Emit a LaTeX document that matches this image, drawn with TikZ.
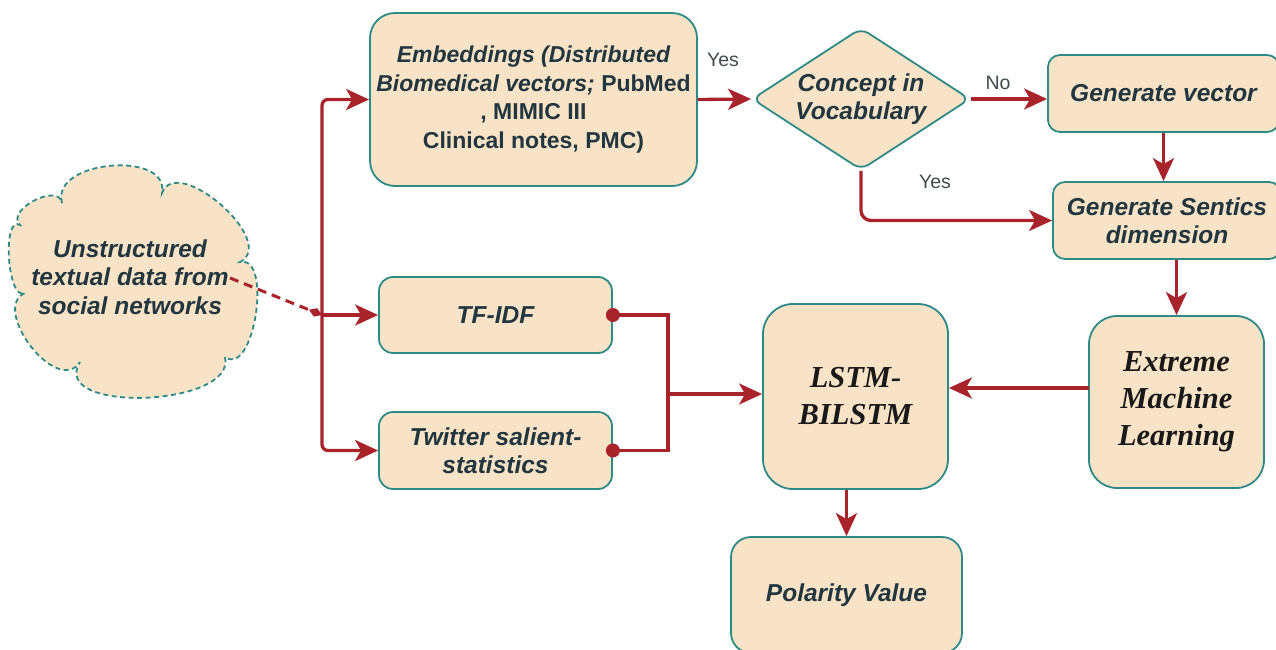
\documentclass[tikz,border=0pt]{standalone}
\usepackage{fontspec}
\newfontfamily\boxsans{Liberation Sans}
\newfontfamily\boxserif{Liberation Serif}
\usetikzlibrary{arrows.meta,shapes.geometric}
\definecolor{peach}{HTML}{F9E3C6}
\definecolor{tealedge}{HTML}{2E8A86}
\definecolor{flowred}{HTML}{A8242A}
\definecolor{ink}{HTML}{22363F}
\definecolor{labelgrey}{HTML}{3F4A4E}
\newcommand\sansbi{\fontsize{24.5}{28.5}\selectfont\boxsans\bfseries\itshape}
\newcommand\sansbismall{\fontsize{23}{28.5}\selectfont\boxsans\bfseries\itshape}
\newcommand\serifbi{\fontsize{30.5}{37}\selectfont\boxserif\bfseries\itshape}
\newcommand\labelfont{\fontsize{19.5}{22}\selectfont\boxsans}

\begin{document}
\begin{tikzpicture}[x=1pt,y=-1pt,
  flow/.style={draw=flowred, line width=3.3pt},
  arr/.style={flow, -{Stealth[length=23pt,width=21pt,inset=6pt]}},
  dashlink/.style={draw=flowred, line width=3pt, dash pattern=on 9pt off 6pt,
    -{Diamond[length=14pt,width=9pt]}},
  card/.style={draw=tealedge, line width=1.8pt, fill=peach, rounded corners=#1,
    align=center, text=ink, inner sep=2pt, font=\sansbi},
  card/.default=13pt,
  bigcard/.style={card=#1, font=\serifbi, text=black!90},
  lbl/.style={text=labelgrey, font=\labelfont, inner sep=0pt},
]
\useasboundingbox (0,0) rectangle (1276,650);

% source cloud
\draw[draw=tealedge, line width=1.8pt, dash pattern=on 5pt off 3.5pt, fill=peach]
  (62,203) .. controls (50,160) and (170,150) .. (162,193)
  .. controls (177,153) and (279,242) .. (240,262)
  .. controls (273,255) and (254,378) .. (225,357)
  .. controls (237,407) and (48,414) .. (80,362)
  .. controls (57,397) and (-10,308) .. (25,293)
  .. controls (7,302) and (2,214) .. (20,225)
  .. controls (5,210) and (59,182) .. cycle;
\node[align=center, text=ink, font=\sansbi] (src) at (130,277)
  {Unstructured\\textual data from\\social networks};

% processing blocks
\node[card=25pt, minimum width=327pt, minimum height=173pt, font=\sansbismall] (emb) at (533.5,99.5)
  {Embeddings (Distributed\\Biomedical vectors;{\upshape\ PubMed}\\{\upshape, MIMIC III}\\{\upshape Clinical notes, PMC)}};
\node[shape=diamond, aspect=1.5, draw=tealedge, line width=1.8pt, fill=peach, rounded corners=9pt,
  minimum width=218pt, minimum height=142pt, inner sep=-3pt, align=center, text=ink,
  font=\sansbi] (dia) at (861,99) {Concept in\\Vocabulary};
\node[card=12pt, minimum width=231pt, minimum height=77pt] (gv) at (1163.5,93.5) {Generate vector};
\node[card=12pt, minimum width=228pt, minimum height=77pt] (gs) at (1167,220.5) {Generate Sentics\\dimension};
\node[bigcard=28pt, minimum width=175pt, minimum height=172pt] (eml) at (1176.5,402) {Extreme\\Machine\\Learning};
\node[bigcard=30pt, minimum width=185pt, minimum height=185pt] (lstm) at (855.5,396.5) {LSTM-\\BILSTM};
\node[card=20pt, minimum width=231pt, minimum height=116pt] (pol) at (846.5,595) {Polarity Value};
\node[card=14pt, minimum width=233pt, minimum height=76pt] (tfidf) at (495.5,315) {TF-IDF};
\node[card=14pt, minimum width=233pt, minimum height=77pt] (tw) at (495.5,450.5) {Twitter salient-\\statistics};

% branching from the source
\coordinate (cloudout) at (230,278);
\coordinate (J) at (322,315);
\draw[arr, rounded corners=6pt] (J) |- (emb.west);
\draw[arr] (J) -- (tfidf.west);
\draw[arr, rounded corners=6pt] (J) |- (tw.west);
\draw[dashlink] (cloudout) -- (J);

% vocabulary lookup
\draw[arr] (emb.east) -- (dia.west);
\node[lbl] (yes1) at (723,60) {Yes};
\draw[arr] (dia.east) -- (dia.east -| gv.west);
\node[lbl] (no1) at (998,83) {No};
\draw[arr, rounded corners=10pt] (dia.south) |- (gs.west);
\node[lbl] (yes2) at (935,182) {Yes};
\draw[arr] (gv.south) -- (gv.south |- gs.north);
\draw[arr] (gs.south -| eml.north) -- (eml.north);

% feature merge into the classifier
\coordinate (bus) at (668,394);
\draw[flow] (tfidf.east) -| (bus) |- (tw.east);
\fill[flowred] (tfidf.east) circle (7pt);
\fill[flowred] (tw.east) circle (7pt);
\draw[arr] (bus) -- (bus -| lstm.west);
\coordinate (emlout) at (1089,388);
\draw[arr] (emlout) -- (emlout -| lstm.east);
\draw[arr] (lstm.south -| pol.north) -- (pol.north);
\end{tikzpicture}
\end{document}
